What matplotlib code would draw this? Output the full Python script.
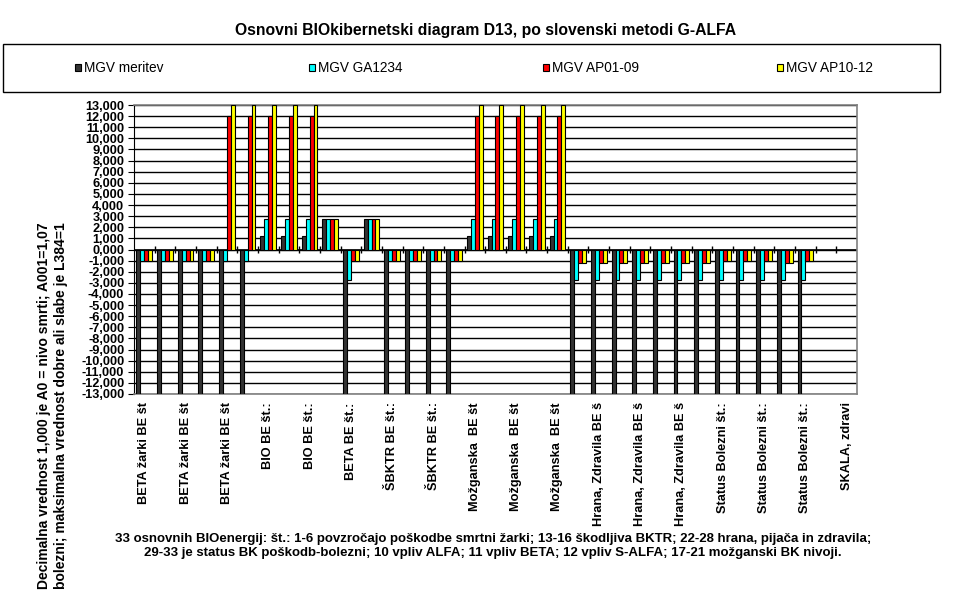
import numpy as np
import matplotlib
matplotlib.use("Agg")
import matplotlib.pyplot as plt
from matplotlib.patches import Rectangle
from matplotlib.ticker import FuncFormatter, MultipleLocator

plt.rcParams['font.family'] = ['Liberation Sans Narrow', 'Liberation Sans', 'DejaVu Sans']
plt.rcParams['font.weight'] = 'bold'

nan = np.nan

# ---- data (values in thousands, as on the axis) ----
categories = list(range(1, 36))
series_names = ["MGV meritev", "MGV GA1234", "MGV AP01-09", "MGV AP10-12"]
series_colors = ["#333333", "#00ffff", "#ff0000", "#ffff00"]

meritev = [-13, -13, -13, -13, -13, -13, 1.2, 1.2, 1.2, 2.72, -13, 2.72,
           -13, -13, -13, -13, 1.2, 1.2, 1.2, 1.2, 1.2,
           -13, -13, -13, -13, -13, -13, -13, -13, -13, -13, -13, -13, nan, nan]
ga1234 = [-1, -1, -1, -1, -1, -1, 2.72, 2.72, 2.72, 2.72, -2.72, 2.72,
          -1, -1, -1, -1, 2.72, 2.72, 2.72, 2.72, 2.72,
          -2.72, -2.72, -2.72, -2.72, -2.72, -2.72, -2.72, -2.72, -2.72, -2.72, -2.72, -2.72, nan, nan]
ap01_09 = [-1, -1, -1, -1, 12, 12, 12, 12, 12, 2.72, -1, 2.72,
           -1, -1, -1, -1, 12, 12, 12, 12, 12,
           -1.17, -1.17, -1.17, -1.17, -1.17, -1.17, -1.17, -1, -1, -1, -1.17, -1, nan, nan]
ap10_12 = [-1, -1, -1, -1, 13, 13, 13, 13, 13, 2.72, -1, 2.72,
           -1, -1, -1, -1, 13, 13, 13, 13, 13,
           -1.17, -1.17, -1.17, -1.17, -1.17, -1.17, -1.17, -1, -1, -1, -1.17, -1, nan, nan]

tick_labels = ["BETA žarki BE št", "BETA žarki BE št", "BETA žarki BE št",
               "BIO BE št.:", "BIO BE št.:", "BETA BE št.:",
               "ŠBKTR BE št.:", "ŠBKTR BE št.:",
               "Možganska  BE št", "Možganska  BE št", "Možganska  BE št",
               "Hrana, Zdravila BE š", "Hrana, Zdravila BE š", "Hrana, Zdravila BE š",
               "Status Bolezni št.:", "Status Bolezni št.:", "Status Bolezni št.:",
               "SKALA, zdravi"]

title = "Osnovni BIOkibernetski diagram D13, po slovenski metodi G-ALFA"
ylabel1 = "Decimalna vrednost 1,000 je A0 = nivo smrti; A001=1,07"
ylabel2 = "bolezni; maksimalna vrednost dobre ali slabe je L384=1"
caption = ("33 osnovnih BIOenergij: št.: 1-6 povzročajo poškodbe smrtni žarki; 13-16 škodljiva BKTR; 22-28 hrana, pijača in zdravila;\n"
           "29-33 je status BK poškodb-bolezni; 10 vpliv ALFA; 11 vpliv BETA; 12 vpliv S-ALFA; 17-21 možganski BK nivoji.")

W, H = 977, 600
fig = plt.figure(figsize=(W / 100, H / 100), dpi=100)
ax = fig.add_axes([134 / W, 1 - 394 / H, (857 - 134) / W, (394 - 105) / H])

x = np.array(categories, dtype=float)
w = 0.19
all_series = [meritev, ga1234, ap01_09, ap10_12]
for k, (vals, col) in enumerate(zip(all_series, series_colors)):
    ax.bar(x + (k - 1.5) * w, vals, width=w, color=col, edgecolor="black",
           linewidth=0.8, zorder=3)

ax.set_xlim(0.5, len(categories) + 0.5)
ax.set_ylim(-13, 13)
ax.yaxis.set_major_locator(MultipleLocator(1))
ax.yaxis.set_major_formatter(FuncFormatter(lambda v, p: f"{v:.3f}".replace(".", ",")))
ax.grid(axis="y", color="black", linewidth=1)
ax.set_axisbelow(True)

# zero line with category tick marks
ax.axhline(0, color="black", linewidth=1.2, zorder=2)
ax.vlines(x[:-1] + 0.5, -0.35, 0.35, color="black", linewidth=1, zorder=2)

ax.set_xticks(x[::2])
ax.set_xticklabels(tick_labels, rotation=90, va="top", ha="center", fontsize=9.2)
ax.tick_params(axis="x", length=0, pad=6)
ax.tick_params(axis="y", direction="out", length=4, labelsize=9.2, pad=3)

for s in ["top", "right", "bottom"]:
    ax.spines[s].set_color("#808080")
    ax.spines[s].set_linewidth(1.2)
ax.spines["left"].set_color("black")

fig.text(486 / W, 1 - 31 / H, title, ha="center", va="center", fontsize=11.3, fontweight="bold")

# legend box
fig.patches.append(Rectangle((3 / W, 1 - 92 / H), 937 / W, 48 / H, transform=fig.transFigure,
                             facecolor="white", edgecolor="black", linewidth=1))
for k, (name, col) in enumerate(zip(series_names, series_colors)):
    x0 = 75 + k * 234
    fig.patches.append(Rectangle((x0 / W, 1 - 71 / H), 6 / W, 7 / H, transform=fig.transFigure,
                                 facecolor=col, edgecolor="black", linewidth=0.8))
    fig.text((x0 + 9) / W, 1 - 67.5 / H, name, ha="left", va="center", fontsize=9.8,
             fontweight="normal")

fig.text(44 / W, 1 - 222 / H, ylabel1, rotation=90, ha="center", va="top", fontsize=10)
fig.text(61 / W, 1 - 222 / H, ylabel2, rotation=90, ha="center", va="top", fontsize=10)

fig.text(493 / W, 1 - 546 / H, caption, ha="center", va="center", fontsize=9.5,
         linespacing=1.3)

fig.savefig("out.png", dpi=100)
